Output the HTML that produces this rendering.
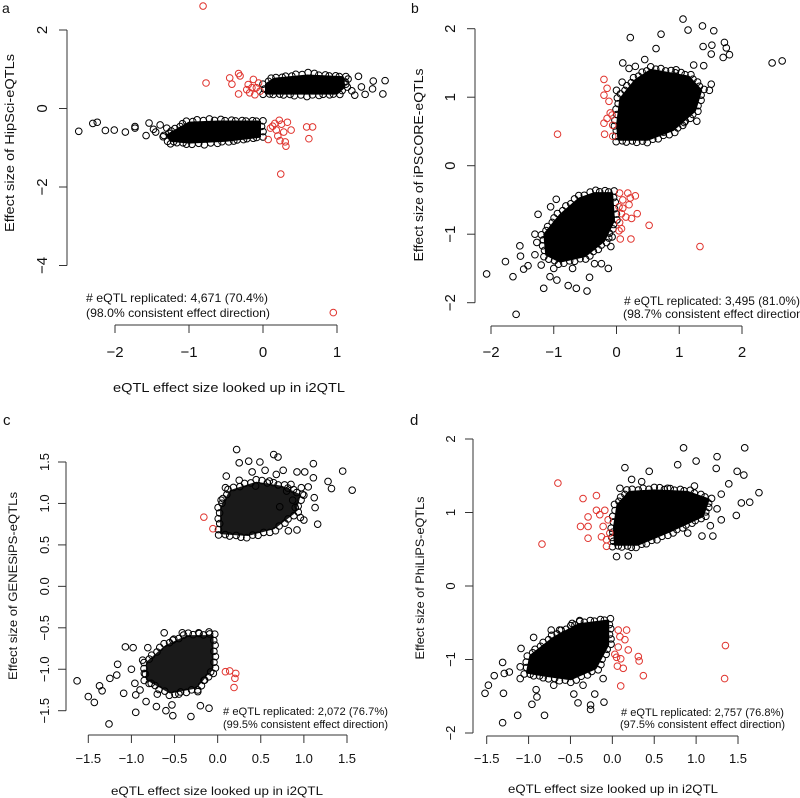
<!DOCTYPE html>
<html><head><meta charset="utf-8"><style>
html,body{margin:0;padding:0;background:#fff}
svg{display:block}
text{font-family:"Liberation Sans",sans-serif;fill:#111}
</style></head><body>
<svg id="fig" width="800" height="798" viewBox="0 0 800 798" xmlns="http://www.w3.org/2000/svg">
<g>
<text x="2" y="13" font-size="14">a</text>
<text transform="translate(14,143) rotate(-90)" text-anchor="middle" font-size="13" textLength="178" lengthAdjust="spacingAndGlyphs">Effect size of HipSci-eQTLs</text>
<text x="229" y="392" text-anchor="middle" font-size="13" textLength="232" lengthAdjust="spacingAndGlyphs">eQTL effect size looked up in i2QTL</text>
<text x="86" y="302" font-size="12" textLength="182" lengthAdjust="spacingAndGlyphs"># eQTL replicated: 4,671 (70.4%)</text>
<text x="86" y="317" font-size="12" textLength="184" lengthAdjust="spacingAndGlyphs">(98.0% consistent effect direction)</text>
</g>
<g>
<text x="411" y="13" font-size="14">b</text>
<text transform="translate(423,165) rotate(-90)" text-anchor="middle" font-size="13" textLength="193" lengthAdjust="spacingAndGlyphs">Effect size of iPSCORE-eQTLs</text>
<text x="624" y="305" font-size="12" textLength="176" lengthAdjust="spacingAndGlyphs"># eQTL replicated: 3,495 (81.0%)</text>
<text x="623" y="318" font-size="12" textLength="184" lengthAdjust="spacingAndGlyphs">(98.7% consistent effect direction)</text>
</g>
<g>
<text x="3" y="425" font-size="15">c</text>
<text transform="translate(17,586) rotate(-90)" text-anchor="middle" font-size="12" textLength="188" lengthAdjust="spacingAndGlyphs">Effect size of GENESiPS-eQTLs</text>
<text x="217" y="795" text-anchor="middle" font-size="12" textLength="212" lengthAdjust="spacingAndGlyphs">eQTL effect size looked up in i2QTL</text>
<text x="223" y="715" font-size="11" textLength="165" lengthAdjust="spacingAndGlyphs"># eQTL replicated: 2,072 (76.7%)</text>
<text x="223" y="728" font-size="11" textLength="165" lengthAdjust="spacingAndGlyphs">(99.5% consistent effect direction)</text>
</g>
<g>
<text x="410" y="425" font-size="15">d</text>
<text transform="translate(424,578) rotate(-90)" text-anchor="middle" font-size="12" textLength="163" lengthAdjust="spacingAndGlyphs">Effect size of PhiLiPS-eQTLs</text>
<text x="613" y="793" text-anchor="middle" font-size="12" textLength="210" lengthAdjust="spacingAndGlyphs">eQTL effect size looked up in i2QTL</text>
<text x="621" y="716" font-size="11" textLength="163" lengthAdjust="spacingAndGlyphs"># eQTL replicated: 2,757 (76.8%)</text>
<text x="620" y="728" font-size="11" textLength="165" lengthAdjust="spacingAndGlyphs">(97.5% consistent effect direction)</text>
</g>
</svg>
<script>
// ---- data (effect sizes) ----
const aXTicks=[-2,-1,0,1];
const aYTicks=[2,0,-2,-4];
const aHullUp=[[0.04,0.38],[1.0,0.38],[1.1,0.55],[1.08,0.8],[0.6,0.84],[0.15,0.76],[0.04,0.62]];
const aHullLo=[[-1.15,-0.52],[-1.0,-0.36],[-0.6,-0.33],[-0.04,-0.33],[-0.04,-0.72],[-0.5,-0.82],[-1.0,-0.87],[-1.25,-0.82],[-1.3,-0.68]];
const aBlack=[[1.65,0.71],[1.62,0.37],[1.48,0.5],[1.38,0.36],[1.49,0.7],[1.29,0.82],[1.24,0.34],[1.33,0.55],[1.15,0.75],[1.2,0.45],[1.12,0.62],
[-2.49,-0.58],[-2.3,-0.38],[-2.24,-0.35],[-2.13,-0.56],[-2.01,-0.55],[-1.86,-0.6],[-1.73,-0.46],[-1.73,-0.5],[-1.58,-0.69],[-1.54,-0.37],[-1.48,-0.53],[-1.39,-0.42],[-1.35,-0.72],[-1.45,-0.6],[-1.3,-0.5],[-1.25,-0.9]];
const aRed=[[-0.81,2.61],[-0.77,0.65],[-0.45,0.78],[-0.33,0.89],[-0.31,0.83],[-0.33,0.37],[-0.42,0.62],[-0.2,0.61],[-0.13,0.74],[-0.09,0.53],[-0.18,0.4],[-0.04,0.44],[-0.22,0.48],[-0.11,0.35],[-0.06,0.65],[-0.15,0.53],
[0.07,-0.79],[0.13,-0.45],[0.18,-0.55],[0.2,-0.7],[0.25,-0.4],[0.28,-0.6],[0.33,-0.35],[0.3,-0.85],[0.31,-0.96],[0.38,-0.55],[0.23,-0.82],[0.16,-0.38],[0.1,-0.5],[0.22,-0.3],[0.59,-0.47],[0.67,-0.47],[0.62,-0.77],[0.24,-1.67],[0.95,-5.2]];

const bXTicks=[-2,-1,0,1,2];
const bYTicks=[2,1,0,-1,-2];
const bHullUp=[[0.03,0.38],[0.5,0.38],[0.9,0.52],[1.25,0.8],[1.35,1.1],[1.15,1.3],[0.55,1.4],[0.3,1.25],[0.06,0.98],[0.01,0.6]];
const bHullLo=[[-0.07,-0.4],[-0.04,-0.8],[-0.2,-1.1],[-0.5,-1.32],[-0.9,-1.4],[-1.12,-1.3],[-1.15,-1.0],[-0.9,-0.72],[-0.6,-0.48],[-0.35,-0.4]];
const bBlack=[[1.06,2.14],[1.37,2.04],[1.55,1.97],[1.14,1.98],[0.71,1.92],[0.22,1.87],[1.72,1.8],[1.75,1.72],[1.8,1.62],[1.7,1.58],[1.52,1.76],[1.51,1.63],[2.48,1.5],[2.64,1.53],[0.63,1.71],[0.1,1.5],[0.2,1.42],[0.09,1.22],[1.23,1.47],[1.39,1.46],[1.38,1.74],[1.48,1.1],[1.51,1.19],[1.28,0.65],[1.08,0.63],[1.17,0.79],[0.75,0.49],[0.45,1.55],[0.3,1.45],[0.95,1.4],[1.1,1.25],[0.0,1.1],
[-2.07,-1.58],[-1.6,-2.17],[-1.65,-1.62],[-1.77,-1.4],[-1.54,-1.17],[-1.53,-1.32],[-1.48,-1.51],[-1.41,-1.46],[-1.27,-1.12],[-1.25,-0.71],[-1.16,-1.79],[-1.06,-1.62],[-0.95,-1.67],[-0.77,-1.75],[-0.64,-1.79],[-0.47,-1.83],[-0.43,-1.63],[-0.35,-1.43],[-0.24,-1.43],[-0.13,-1.5],[-0.09,-1.18],[-0.07,-1.04],[-0.96,-0.49],[-1.3,-1.3],[-1.2,-1.45],[-1.0,-1.5],[-0.7,-1.5],[-1.05,-0.6],[-1.3,-1.0]];
const bRed=[[-0.2,1.26],[-0.15,1.13],[-0.2,1.03],[-0.12,0.94],[-0.1,0.77],[-0.15,0.69],[-0.2,0.62],[-0.19,0.46],[-0.06,0.43],[-0.07,0.74],[-0.06,0.59],[-0.94,0.46],
[0.05,-0.4],[0.18,-0.4],[0.3,-0.44],[0.22,-0.47],[0.1,-0.5],[0.04,-0.6],[0.1,-0.62],[0.2,-0.57],[0.08,-0.7],[0.15,-0.75],[0.24,-0.77],[0.33,-0.7],[0.05,-0.83],[0.04,-0.95],[0.08,-0.92],[0.06,-1.07],[0.23,-1.07],[0.52,-0.87],[1.33,-1.18]];

const cXTicks=[-1.5,-1.0,-0.5,0.0,0.5,1.0,1.5];
const cYTicks=[1.5,1.0,0.5,0.0,-0.5,-1.0,-1.5];
const cHullUp=[[0.04,0.64],[0.35,0.62],[0.65,0.7],[0.9,0.9],[0.95,1.1],[0.75,1.2],[0.45,1.25],[0.15,1.15],[0.04,0.95]];
const cHullLo=[[-0.06,-0.6],[-0.06,-0.98],[-0.25,-1.22],[-0.55,-1.28],[-0.82,-1.12],[-0.82,-0.92],[-0.6,-0.72],[-0.35,-0.6]];
const cBlack=[[0.22,1.65],[0.25,1.49],[0.36,1.51],[0.49,1.5],[0.65,1.59],[0.7,1.56],[0.76,1.4],[0.92,1.38],[1.01,1.38],[1.11,1.48],[1.11,1.31],[1.45,1.39],[1.28,1.265],[1.32,1.18],[1.56,1.16],[1.16,0.75],[1.13,0.95],[1.12,1.07],[0.96,0.83],[0.92,0.68],[0.82,0.67],[0.1,1.33],[0.09,1.19],[0.04,1.04],[0.25,1.28],[0.44,1.21],[0.6,1.27],[0.85,1.23],[0.97,1.19],[0.72,0.96],[0.87,1.04],[0.8,1.15],[0.9,0.95],[1.0,1.1],[0.68,1.35],[0.4,1.38],[0.55,1.4],[1.05,1.2],[1.0,0.8],
[-1.63,-1.14],[-1.5,-1.33],[-1.43,-1.4],[-1.26,-1.66],[-1.37,-1.2],[-1.34,-1.26],[-1.25,-1.11],[-1.17,-1.07],[-1.16,-0.94],[-1.09,-1.29],[-1.07,-0.73],[-0.98,-0.74],[-0.95,-1.52],[-0.95,-1.31],[-0.96,-1.17],[-0.83,-1.39],[-0.71,-1.45],[-0.6,-1.5],[-0.52,-1.56],[-0.53,-1.43],[-0.31,-1.57],[-0.2,-1.44],[-0.1,-1.47],[-0.23,-1.27],[-0.15,-1.13],[-0.05,-1.05],[-0.77,-1.17],[-0.87,-0.89],[-0.81,-0.74],[-0.62,-0.56],[-0.52,-0.65],[-0.41,-0.56],[-0.22,-0.56],[-0.1,-0.55],[-0.85,-1.05],[-0.7,-1.3],[-0.45,-1.3],[-1.0,-1.0],[-0.9,-1.25]];
const cRed=[[-0.16,0.835],[-0.055,0.695],[0.09,-1.03],[0.14,-1.02],[0.21,-1.05],[0.2,-1.11],[0.19,-1.22]];

const dXTicks=[-1.5,-1.0,-0.5,0.0,0.5,1.0,1.5];
const dYTicks=[2,1,0,-1,-2];
const dHullUp=[[0.03,0.56],[0.3,0.56],[0.7,0.75],[1.08,0.95],[1.15,1.18],[0.9,1.28],[0.5,1.3],[0.2,1.28],[0.06,1.1],[0.02,0.8]];
const dHullLo=[[-0.05,-0.47],[-0.05,-0.8],[-0.2,-1.12],[-0.5,-1.27],[-0.8,-1.22],[-1.02,-1.18],[-0.98,-0.95],[-0.7,-0.7],[-0.4,-0.52]];
const dBlack=[[0.15,1.61],[0.85,1.88],[1.58,1.88],[1.25,1.76],[1.24,1.6],[1.0,1.7],[0.78,1.65],[1.49,1.56],[1.57,1.51],[1.39,1.39],[1.75,1.27],[1.64,1.14],[1.54,1.13],[1.48,0.96],[1.3,0.9],[1.2,0.68],[1.07,0.68],[1.17,0.82],[0.44,1.56],[0.23,1.45],[0.09,1.33],[0.19,0.41],[0.05,0.4],[0.98,1.36],[0.66,1.33],[1.3,1.25],[1.25,1.05],[0.35,1.42],[0.9,0.72],
[-1.52,-1.46],[-1.48,-1.35],[-1.31,-1.86],[-1.3,-1.46],[-1.41,-1.22],[-1.31,-1.04],[-1.29,-1.19],[-1.23,-1.17],[-1.13,-1.76],[-1.1,-1.26],[-1.09,-0.85],[-0.96,-1.61],[-0.91,-1.41],[-0.9,-1.51],[-0.81,-1.76],[-0.94,-0.7],[-0.73,-0.6],[-0.46,-1.47],[-0.41,-1.59],[-0.26,-1.62],[-0.26,-1.68],[-0.1,-1.58],[-0.21,-1.47],[-0.11,-1.26],[-0.63,-0.6],[-0.48,-0.51],[-0.39,-0.47],[-1.1,-1.1],[-0.7,-1.35],[-0.35,-1.35]];
const dRed=[[-0.65,1.4],[-0.35,1.19],[-0.19,1.23],[-0.38,0.81],[-0.29,0.81],[-0.29,0.65],[-0.29,0.94],[-0.19,1.03],[-0.15,0.97],[-0.11,0.81],[-0.13,0.67],[-0.07,0.54],[-0.05,0.9],[-0.09,1.03],[-0.84,0.57],[-0.03,0.72],[-0.07,0.63],
[0.07,-0.6],[0.17,-0.6],[0.09,-0.69],[0.15,-0.73],[0.07,-0.83],[0.19,-0.87],[0.1,-0.99],[0.06,-1.09],[0.13,-1.12],[0.05,-0.97],[0.31,-0.96],[0.32,-1.02],[0.37,-1.22],[0.1,-1.36],[1.35,-0.81],[1.34,-1.26],[0.03,-0.93]];

// ---- layout ----
const NS="http://www.w3.org/2000/svg";
const svg=document.getElementById('fig');
function mk(tag,attrs,parent){const e=document.createElementNS(NS,tag);for(const k in attrs)e.setAttribute(k,attrs[k]);(parent||svg).appendChild(e);return e;}
function linear(d0,d1,r0,r1){return v=>r0+(v-d0)*(r1-r0)/(d1-d0);}
const panels=[
 {id:'a',xs:linear(-2,1,115,337),ys:linear(2,-4,30,265.5),axX:67,axY:325,xt:aXTicks,yt:aYTicks,dec:0,fs:15,xlY:357,ylX:47,hulls:[aHullUp,aHullLo],black:aBlack,red:aRed},
 {id:'b',xs:linear(-2,2,491,742),ys:linear(2,-2,28.7,302.7),axX:475,axY:326,xt:bXTicks,yt:bYTicks,dec:0,fs:15,xlY:357,ylX:455,hulls:[bHullUp,bHullLo],black:bBlack,red:bRed},
 {id:'c',xs:linear(-1.5,1.5,88.3,347),ys:linear(1.5,-1.5,462,710.7),axX:66,axY:735,xt:cXTicks,yt:cYTicks,dec:1,fs:13,xlY:763,ylX:49,hulls:[cHullUp,cHullLo],black:cBlack,red:cRed,fill:'#1a1a1a'},
 {id:'d',xs:linear(-1.5,1.5,486.7,738),ys:linear(2,-2,439,733),axX:473,axY:736,xt:dXTicks,yt:dYTicks,dec:0,fs:13,xlY:763,ylX:455,hulls:[dHullUp,dHullLo],black:dBlack,red:dRed,xdec:1}
];
function fmt(v,d){return (v<0?'\u2212':'')+Math.abs(v).toFixed(d);}
panels.forEach(p=>{
  const g=mk('g',{});
  
  
  const yax=mk('g',{},g);
  
  
  const ymin=Math.min(...p.yt.map(p.ys)),ymax=Math.max(...p.yt.map(p.ys));
  mk('line',{x1:p.axX,x2:p.axX,y1:ymin,y2:ymax,stroke:'#333','stroke-width':1},yax);
  p.yt.forEach(v=>{
    const y=p.ys(v);
    mk('line',{x1:p.axX-8,x2:p.axX,y1:y,y2:y,stroke:'#333','stroke-width':1},yax);
    const t=mk('text',{transform:`translate(${p.ylX},${y}) rotate(-90)`,'text-anchor':'middle','font-size':p.fs},yax);
    
    
    t.textContent=fmt(v,p.dec);
  });
  const xax=mk('g',{},g);
  
  
  const xmin=Math.min(...p.xt.map(p.xs)),xmax=Math.max(...p.xt.map(p.xs));
  mk('line',{x1:xmin,x2:xmax,y1:p.axY,y2:p.axY,stroke:'#333','stroke-width':1},xax);
  p.xt.forEach(v=>{
    const x=p.xs(v);
    mk('line',{x1:x,x2:x,y1:p.axY,y2:p.axY+8,stroke:'#333','stroke-width':1},xax);
    const t=mk('text',{x:x,y:p.xlY,'text-anchor':'middle','font-size':p.fs},xax);
    
    
    t.textContent=fmt(v,p.xdec!==undefined?p.xdec:p.dec);
  });
  // dense cores: filled hull + scalloped ring of circles along the hull edge
  p.hulls.forEach((h,i)=>{
    const px=h.map(q=>[p.xs(q[0]),p.ys(q[1])]);
    const pts=px.map(q=>q[0].toFixed(1)+','+q[1].toFixed(1)).join(' ');
    const poly=mk('polygon',{points:pts,fill:p.fill||'#000',stroke:p.fill||'#000','stroke-width':2,'stroke-linejoin':'round'},g);
    
    
    const cx=px.reduce((s,q)=>s+q[0],0)/px.length, cy=px.reduce((s,q)=>s+q[1],0)/px.length;
    for(let k=0;k<px.length;k++){
      const A=px[k],B=px[(k+1)%px.length];
      const L=Math.hypot(B[0]-A[0],B[1]-A[1]);
      const n=Math.max(1,Math.round(L/5));
      for(let s=0;s<n;s++){
        const t=s/n;let x=A[0]+(B[0]-A[0])*t,y=A[1]+(B[1]-A[1])*t;
        const dx=x-cx,dy=y-cy,dl=Math.hypot(dx,dy)||1;
        const off=(s%2)?1.5:3;
        x+=dx/dl*off;y+=dy/dl*off;
        const c=mk('circle',{cx:x,cy:y,r:3.3,fill:'none',stroke:'#000','stroke-width':1},g);
        
        
      }
    }
  });
  p.black.forEach(q=>{
    const c=mk('circle',{cx:p.xs(q[0]),cy:p.ys(q[1]),r:3.3,fill:'none',stroke:'#000','stroke-width':1},g);
    
    
  });
  p.red.forEach(q=>{
    const c=mk('circle',{cx:p.xs(q[0]),cy:p.ys(q[1]),r:3.3,fill:'none',stroke:'#e0342e','stroke-width':1},g);
    
    
  });
});
</script>
</body></html>
